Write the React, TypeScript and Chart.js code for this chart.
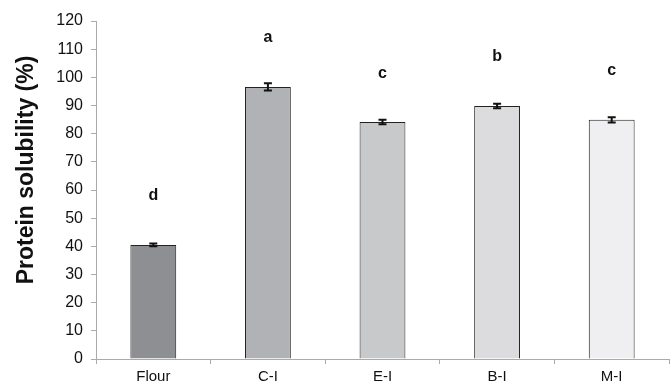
import React, { useEffect, useRef } from "react";
import { Chart, registerables } from "chart.js";

Chart.register(...registerables);

const categories = ["Flour", "C-I", "E-I", "B-I", "M-I"];
const solubility = [40.5, 96.6, 84.1, 89.8, 84.9];
const errors = [0.5, 1.3, 0.8, 0.8, 0.9];
const letters = ["d", "a", "c", "b", "c"];
const barColors = ["#8e8f93", "#b1b2b6", "#c8c9cb", "#dcdcde", "#efeff1"];
const yTitle = "Protein solubility (%)";

const FONT = "'Liberation Sans', Arial, sans-serif";

const errorBarPlugin = {
  id: "errorBars",
  afterDatasetsDraw(chart: any) {
    const ctx = chart.ctx;
    const meta = chart.getDatasetMeta(0);
    const y = chart.scales.y;
    ctx.save();
    meta.data.forEach((bar: any, i: number) => {
      const x = bar.x;
      const top = y.getPixelForValue(solubility[i] + errors[i]);
      const bot = y.getPixelForValue(solubility[i] - errors[i]);
      ctx.strokeStyle = "#111";
      ctx.lineWidth = 2;
      ctx.beginPath();
      ctx.moveTo(x, top);
      ctx.lineTo(x, bot);
      ctx.moveTo(x - 4, top);
      ctx.lineTo(x + 4, top);
      ctx.moveTo(x - 4, bot);
      ctx.lineTo(x + 4, bot);
      ctx.stroke();
      ctx.fillStyle = "#111";
      ctx.font = "bold 16px " + FONT;
      ctx.textAlign = "center";
      ctx.textBaseline = "middle";
      ctx.fillText(letters[i], x, y.getPixelForValue(solubility[i]) - 49);
    });
    // y axis title
    ctx.translate(27, 170);
    ctx.rotate(-Math.PI / 2);
    ctx.font = "bold 23px " + FONT;
    ctx.fillStyle = "#111";
    ctx.textAlign = "center";
    ctx.textBaseline = "middle";
    ctx.fillText(yTitle, 0, 0);
    ctx.restore();
  },
};

export default function App() {
  const ref = useRef<HTMLCanvasElement>(null);
  useEffect(() => {
    document.body.style.margin = "0";
    const chart = new Chart(ref.current!, {
      type: "bar",
      data: {
        labels: categories,
        datasets: [
          {
            data: solubility,
            backgroundColor: barColors,
            borderColor: "#222",
            borderWidth: 1,
            categoryPercentage: 0.4,
            barPercentage: 1,
          },
        ],
      },
      options: {
        animation: false,
        responsive: false,
        layout: { padding: { top: 21, right: 1, left: 0, bottom: 0 } },
        plugins: { legend: { display: false }, tooltip: { enabled: false } },
        scales: {
          x: {
            grid: {
              display: true,
              drawOnChartArea: false,
              offset: true,
              tickLength: 5,
              color: "#aaa",
            },
            border: { color: "#aaa", width: 1 },
            ticks: {
              color: "#111",
              font: { size: 15, family: FONT },
              padding: 4,
            },
            afterFit: (s: any) => {
              s.height = 28;
            },
          },
          y: {
            min: 0,
            max: 120,
            ticks: {
              stepSize: 10,
              color: "#111",
              font: { size: 16, family: FONT },
              padding: 8,
            },
            grid: {
              display: true,
              drawOnChartArea: false,
              tickLength: 5,
              color: "#aaa",
            },
            border: { color: "#aaa", width: 1 },
            afterFit: (s: any) => {
              s.width = 96;
            },
          },
        },
      },
      plugins: [errorBarPlugin],
    });
    return () => chart.destroy();
  }, []);
  return <canvas ref={ref} width={670} height={387} style={{ display: "block" }} />;
}
